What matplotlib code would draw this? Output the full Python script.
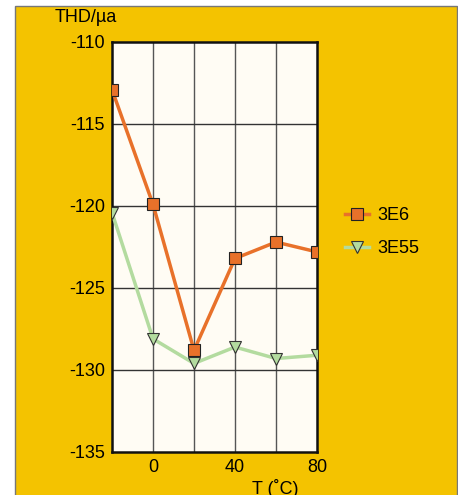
import numpy as np
import matplotlib.pyplot as plt
from matplotlib.patches import Rectangle
from matplotlib.lines import Line2D

plt.rcParams['font.family'] = ['Liberation Sans', 'DejaVu Sans']
plt.rcParams['axes.unicode_minus'] = False

# temperatures (deg C)
temps = [-20, 0, 20, 40, 60, 80]
thd_3e6 = [-112.9, -119.9, -128.8, -123.2, -122.2, -122.8]
thd_3e55 = [-120.4, -128.1, -129.6, -128.6, -129.3, -129.1]

xticks = [0, 40, 80]
yticks = [-110, -115, -120, -125, -130, -135]

orange = '#E8712A'
green = '#B3DB9F'
yellow = '#F4C300'
fs = 13

fig = plt.figure(figsize=(4.58, 4.95), dpi=100)
fig.patch.set_facecolor('white')
fig.patches.append(Rectangle((15 / 458, -0.01), 442 / 458, 1.01 - 6 / 495,
                             transform=fig.transFigure, facecolor=yellow,
                             edgecolor='#777777', linewidth=1, zorder=-5))

ax = fig.add_axes([112 / 458, 1 - 452 / 495, 205 / 458, 410 / 495])
ax.set_facecolor('#FFFCF4')
ax.set_xlim(-20, 80)
ax.set_ylim(-135, -110)

for x in [0, 20, 40, 60]:
    ax.axvline(x, color='#555555', lw=1, zorder=1)
for y in [-115, -120, -125, -130]:
    ax.axhline(y, color='#333333', lw=1, zorder=1)

ax.plot(temps, thd_3e55, color=green, lw=2.5, marker='v', ms=8,
        mfc=green, mec='#333333', mew=0.8, zorder=3, label='3E55')
ax.plot(temps, thd_3e6, color=orange, lw=2.5, marker='s', ms=8,
        mfc=orange, mec='#222222', mew=0.8, zorder=4, label='3E6')

ax.set_xticks(xticks)
ax.set_yticks(yticks)
ax.tick_params(length=0, labelsize=fs, pad=5)
for s in ax.spines.values():
    s.set_linewidth(1.8)
    s.set_color('#111111')

fig.text(55 / 458, 1 - 18 / 495, 'THD/µa', fontsize=fs, va='center', ha='left')
fig.text(275 / 458, 1 - 489 / 495, 'T (˚C)', fontsize=fs, va='center', ha='center')

handles = [Line2D([], [], color=orange, lw=2.5, marker='s', ms=8, mfc=orange, mec='#222222', mew=0.8),
           Line2D([], [], color=green, lw=2.5, marker='v', ms=8, mfc=green, mec='#333333', mew=0.8)]
fig.legend(handles, ['3E6', '3E55'], loc='center left',
           bbox_to_anchor=(329 / 458, 1 - 232 / 495), frameon=False,
           fontsize=fs, handlelength=1.3, handletextpad=0.5, labelspacing=0.9)

fig.savefig('out.png', dpi=100)
